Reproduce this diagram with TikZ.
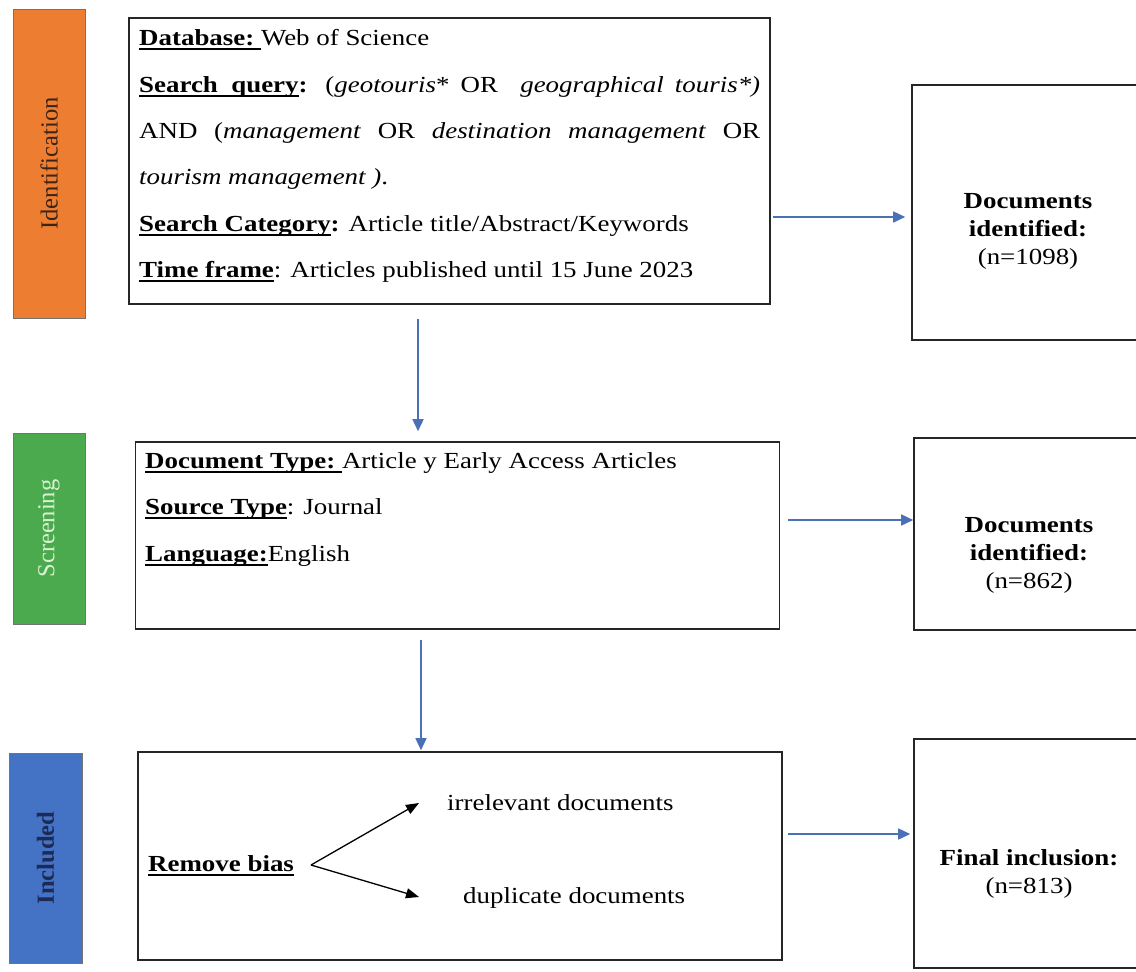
\documentclass[tikz,border=0pt]{standalone}
\usepackage{fontspec}
\setmainfont{Liberation Serif}[FakeStretch=1.17]
\newfontfamily\barfont{Liberation Serif}
\usetikzlibrary{arrows.meta,calc}
\definecolor{idorange}{HTML}{ED7D31}
\definecolor{scgreen}{HTML}{4BAA4E}
\definecolor{inblue}{HTML}{4472C4}
\definecolor{arrblue}{HTML}{4A70B8}
\definecolor{idtext}{HTML}{3A2418}
\definecolor{sctext}{HTML}{D6F2D0}
\definecolor{intext}{HTML}{1C2A55}
\newcommand\ulx[1]{\setbox0\hbox{#1}\rlap{\rule[-4.5pt]{\wd0}{2pt}}\box0}
\begin{document}
\begin{tikzpicture}[x=1pt,y=-1pt,
  box/.style={draw=black!85, line width=1.6pt, inner sep=0pt},
  phase/.style={draw=black!55, line width=0.8pt, inner sep=0pt, rotate=90, font=\barfont\fontsize{24.5}{28}\selectfont},
  flow/.style={draw=arrblue, line width=1.6pt, -{Triangle[length=12pt,width=11pt]}},
  innerarr/.style={draw=black, line width=1.3pt, -{Triangle[length=13pt,width=10pt]}},
  body/.style={font=\fontsize{23}{46.3}\selectfont, inner sep=0pt, anchor=north west, align=justify},
  result/.style={font=\fontsize{23}{28}\selectfont, align=center, inner sep=0pt, anchor=north},
  plain/.style={font=\fontsize{23}{28}\selectfont, inner sep=0pt, anchor=base west}
]
\useasboundingbox (0,0) rectangle (1136,972);
\fill[white] (0,0) rectangle (1136,972);

% phase bars
\node[phase, fill=idorange, text=idtext, minimum width=309pt, minimum height=72pt] (p1) at (49,163.5) {Identification};
\node[phase, fill=scgreen, text=sctext, minimum width=191pt, minimum height=72pt] (p2) at (49,528.5) {Screening};
\node[phase, fill=inblue, text=intext, minimum width=210pt, minimum height=73pt] (p3) at (45.5,858) {\textbf{Included}};

% main boxes
\node[box, minimum width=641pt, minimum height=286pt] (b1) at (449.5,161) {};
\node[box, minimum width=644pt, minimum height=187pt] (b2) at (457.5,535.5) {};
\node[box, minimum width=644pt, minimum height=208pt] (b3) at (460,856) {};

% right boxes
\node[box, minimum width=232pt, minimum height=255pt] (r1) at (1028,212.5) {};
\node[box, minimum width=230pt, minimum height=192pt] (r2) at (1029,534) {};
\node[box, minimum width=230pt, minimum height=229pt] (r3) at (1029,853.5) {};

% box 1 text
\node[body, text width=621pt] (t1) at (139,29.5) {%
\ulx{\textbf{Database:}\ }Web of Science\\
\ulx{\textbf{Search\ \ query}}\textbf{:} (\textit{geotouris}* OR \ \textit{geographical touris*)}\linebreak
AND (\textit{management} OR \textit{destination management} OR\linebreak
\textit{tourism management )}.\\
\ulx{\textbf{Search Category}}\textbf{:} Article title/Abstract/Keywords\\
\ulx{\textbf{Time frame}}: Articles published until 15 June 2023};

% box 2 text
\node[body, text width=620pt] (t2) at (145,452.5) {%
\ulx{\textbf{Document Type:}\ }Article y Early Access Articles\\
\ulx{\textbf{Source Type}}: Journal\\
\ulx{\textbf{Language:}} English};

% box 3 content
\node[plain] (rb) at (148,871) {\ulx{\textbf{Remove bias}}};
\node[plain] (irr) at (447,810) {irrelevant documents};
\node[plain] (dup) at (463,903) {duplicate documents};
\coordinate (fork) at (311,865);
\draw[innerarr] (fork) -- ($(irr.base west)+(-28,-7)$);
\draw[innerarr] (fork) -- ($(dup.base west)+(-44,-6)$);

% right box texts
\node[result] (r1t) at (r1 |- 0,193) {\textbf{Documents}\\\textbf{identified:}\\(n=1098)};
\node[result] (r2t) at (r2 |- 0,517) {\textbf{Documents}\\\textbf{identified:}\\(n=862)};
\node[result] (r3t) at (r3 |- 0,849) {\textbf{Final inclusion:}\\(n=813)};

% connectors
\draw[flow, shorten <=2pt, shorten >=6pt] (b1.east |- 0,217) -- (r1.west |- 0,217);
\draw[flow, shorten <=8pt, shorten >=0pt] (b2.east |- 0,520) -- (r2.west |- 0,520);
\draw[flow, shorten <=5pt, shorten >=3pt] (b3.east |- 0,834) -- (r3.west |- 0,834);
\draw[flow, shorten <=14pt, shorten >=10pt] (b1.south -| 418,0) -- (b2.north -| 418,0);
\draw[flow, shorten <=10pt, shorten >=1pt] (b2.south -| 421,0) -- (b3.north -| 421,0);
\end{tikzpicture}
\end{document}
